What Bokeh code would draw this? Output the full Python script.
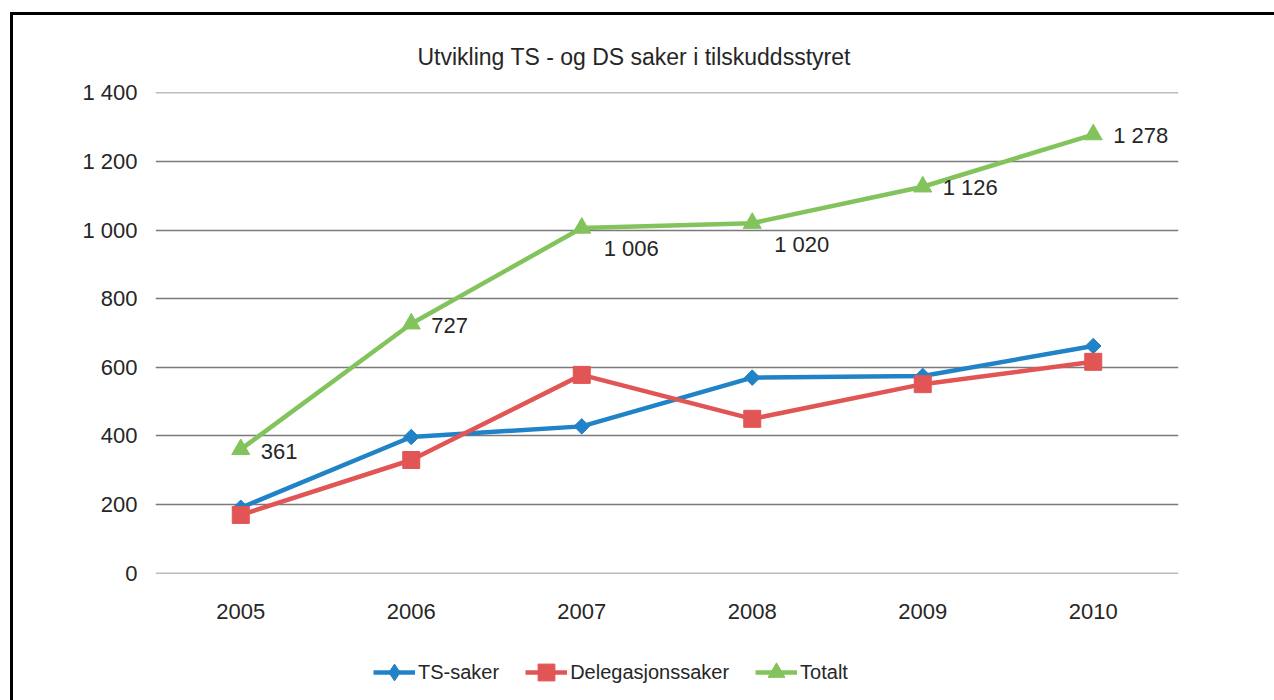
from bokeh.plotting import figure
from bokeh.layouts import column
from bokeh.models import (FactorRange, Range1d, Legend, LegendItem, CustomJSTickFormatter,
                          ColumnDataSource, FixedTicker)
from bokeh.core.properties import value
from bokeh.embed import file_html
from bokeh.resources import INLINE

years = ["2005", "2006", "2007", "2008", "2009", "2010"]
ts_saker = [191, 397, 428, 570, 575, 662]
delegasjonssaker = [170, 330, 578, 450, 551, 616]
totalt = [361, 727, 1006, 1020, 1126, 1278]
y_ticks = [0, 200, 400, 600, 800, 1000, 1200, 1400]
series_names = ["TS-saker", "Delegasjonssaker", "Totalt"]

# label placement (styling): right of point, or below-right
label_dx = [20, 20, 22, 22, 20, 20]
label_dy = [2, 2, 21, 21, 1, 1]

FONT = "Liberation Sans"
TXT = "#262626"
BLUE = "#2183C7"
RED = "#E15554"
GREEN = "#83C35C"
W = 1261

p = figure(x_range=FactorRange(factors=years), y_range=Range1d(-0.6, 1400.6),
           width=W, height=625, output_backend="svg", toolbar_location=None,
           min_border_left=142, min_border_right=96, min_border_top=77, min_border_bottom=67,
           title="Utvikling TS - og DS saker i tilskuddsstyret")
p.outline_line_color = None
p.background_fill_color = "white"
p.border_fill_color = "white"

p.title.align = "left"
p.title.offset = 262
p.title.text_font = FONT
p.title.text_font_size = "23px"
p.title.text_font_style = "normal"
p.title.text_color = TXT
p.title.standoff = 46

# axes
p.yaxis.ticker = FixedTicker(ticks=y_ticks)
p.yaxis.formatter = CustomJSTickFormatter(code="return tick.toString().replace(/\\B(?=(\\d{3})+(?!\\d))/g, ' ');")
for ax in (p.xaxis, p.yaxis):
    ax.axis_line_color = None
    ax.major_tick_line_color = None
    ax.minor_tick_line_color = None
    ax.major_label_text_font = FONT
    ax.major_label_text_font_size = "22px"
    ax.major_label_text_color = TXT
p.yaxis.major_tick_out = 0
p.yaxis.major_label_standoff = 18
p.xaxis.major_label_standoff = 24

p.xgrid.grid_line_color = None
p.ygrid.ticker = FixedTicker(ticks=y_ticks)
p.ygrid.grid_line_color = "#7a7a7a"
p.ygrid.grid_line_width = 1.5

src = ColumnDataSource(dict(
    x=years, ts=ts_saker, ds=delegasjonssaker, tot=totalt,
    lbl=[f"{v:,}".replace(",", " ") for v in totalt],
    dx=label_dx, dy=label_dy))

p.line("x", "ts", source=src, line_color=BLUE, line_width=4.5)
p.scatter("x", "ts", source=src, marker="square", size=11, angle=0.785398,
          fill_color=BLUE, line_color=BLUE)
p.line("x", "ds", source=src, line_color=RED, line_width=4.5)
p.scatter("x", "ds", source=src, marker="square", size=17, fill_color=RED, line_color=RED)
p.line("x", "tot", source=src, line_color=GREEN, line_width=4.5)
p.scatter("x", "tot", source=src, marker="triangle", size=18, fill_color=GREEN, line_color=GREEN)

p.text("x", "tot", text="lbl", source=src, x_offset="dx", y_offset="dy",
       text_font=value(FONT), text_font_size="22px", text_color=TXT,
       text_align="left", text_baseline="middle")

# legend strip underneath (its own small canvas so nothing gets clipped).
# Its renderers use the same data, but the y-range lies far above it, so only
# the legend swatches show.
leg = figure(width=W, height=60, x_range=FactorRange(factors=years), y_range=Range1d(5000, 6000),
             output_backend="svg", toolbar_location=None, x_axis_type=None, y_axis_type=None,
             min_border_left=142, min_border_right=96, min_border_top=0, min_border_bottom=0)
leg.outline_line_color = None
leg.border_fill_color = "white"
leg.xgrid.grid_line_color = None
leg.ygrid.grid_line_color = None
items = []
for name, col, mk, fld in zip(series_names, [BLUE, RED, GREEN],
                              ["diamond", "square", "triangle"], ["ts", "ds", "tot"]):
    r1 = leg.line("x", fld, source=src, line_color=col, line_width=4.5)
    r2 = leg.scatter("x", fld, source=src, marker=mk, fill_color=col, line_color=col)
    items.append(LegendItem(label=name, renderers=[r1, r2]))
legend = Legend(items=items, orientation="horizontal", location=(218, 7))
legend.glyph_width = 42
legend.glyph_height = 42
legend.label_standoff = 3
legend.spacing = 26
legend.padding = 0
legend.margin = 0
legend.border_line_color = None
legend.background_fill_alpha = 0
legend.label_text_font = FONT
legend.label_text_font_size = "20px"
legend.label_text_color = TXT
leg.add_layout(legend, "center")

page = column(p, leg, width=W + 3, spacing=0,
              styles={"border-top": "3px solid black", "border-left": "3px solid black",
                      "margin-left": "10px", "margin-top": "12px"})

open("out.html", "w").write(file_html(page, INLINE))
